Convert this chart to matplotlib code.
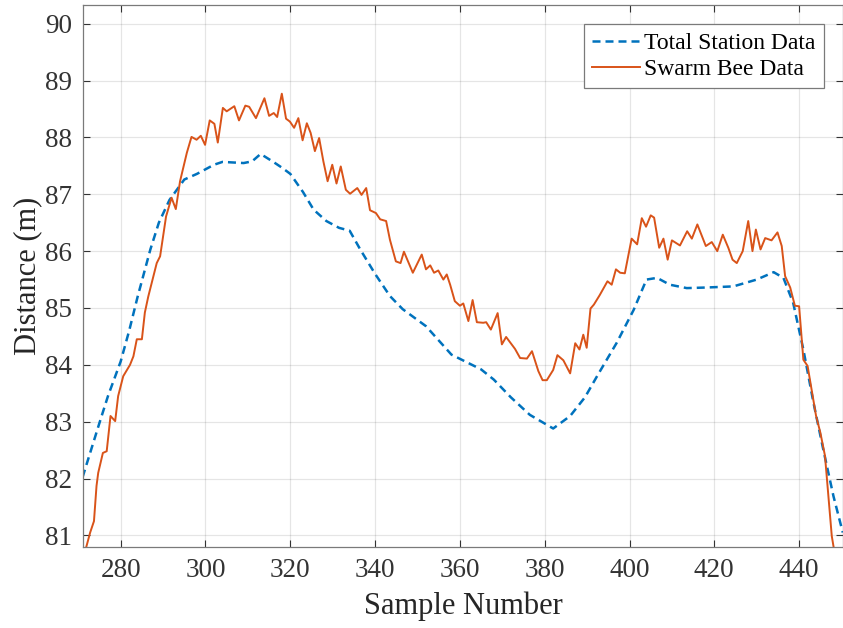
import matplotlib
matplotlib.use('Agg')
import matplotlib.pyplot as plt

# Total Station readings (smooth reference curve)
ts_x = [271, 273, 275, 277, 280, 282, 284, 287, 289, 291.5, 295, 298, 302, 304, 309, 311, 313, 316,
        318, 320, 323, 325.5, 328.5, 331.5, 334, 336.5, 340, 343.5, 346.5, 352, 358, 365, 368, 372,
        376.5, 382, 386, 389.5, 392.5, 397, 401, 404, 406.5, 409.5, 413.5, 418, 424.5, 430, 434,
        436.3, 438.6, 441, 443.4, 445.7, 448.1, 450.3]
ts_y = [82.02, 82.5, 82.98, 83.45, 84.06, 84.6, 85.2, 86.03, 86.5, 86.9, 87.26, 87.36, 87.52, 87.57,
        87.55, 87.58, 87.71, 87.57, 87.47, 87.36, 87.04, 86.73, 86.53, 86.41, 86.36, 86.03, 85.6,
        85.21, 84.98, 84.68, 84.18, 83.92, 83.74, 83.43, 83.12, 82.88, 83.1, 83.43, 83.82, 84.39,
        84.97, 85.5, 85.53, 85.41, 85.35, 85.36, 85.38, 85.5, 85.63, 85.53, 85.09, 84.27, 83.33,
        82.51, 81.69, 81.05]

# Swarm Bee readings (noisy)
sb_x = [271.9, 272.8, 273.7, 274.3, 274.7, 275.8, 276.7, 277.6, 278.7, 279.4, 280.6, 282.2, 283.0,
        283.8, 285.0, 285.7, 286.5, 288.5, 289.3, 290.7, 292.0, 293.0, 294.0, 295.6, 296.7, 297.9,
        298.9, 299.9, 301.0, 302.1, 302.9, 304.1, 305.0, 306.8, 307.9, 309.4, 310.3, 311.9, 313.9,
        315.0, 316.1, 316.9, 318.0, 319.0, 319.9, 320.9, 321.9, 322.9, 323.9, 324.8, 325.8, 326.8,
        327.8, 328.8, 329.9, 330.9, 331.9, 333.1, 334.1, 335.8, 336.8, 337.9, 338.8, 340.2, 341.2,
        342.6, 343.5, 344.9, 346.0, 346.8, 348.9, 351.0, 352.0, 353.0, 353.9, 354.9, 356.1, 356.9,
        357.7, 358.8, 360.0, 360.8, 362.0, 363.0, 364.0, 365.5, 366.2, 367.3, 368.9, 369.9, 370.9,
        373.0, 374.2, 375.8, 377.0, 378.5, 379.5, 380.5, 382.0, 383.0, 384.4, 386.0, 387.2, 388.2,
        389.1, 389.9, 390.8, 391.6, 393.0, 394.8, 395.8, 396.8, 397.8, 398.9, 400.5, 401.8, 402.9,
        403.9, 405.0, 405.8, 407.0, 408.0, 409.0, 410.0, 411.9, 413.6, 414.7, 416.0, 418.0, 419.4,
        420.7, 422.0, 423.3, 424.3, 425.3, 426.7, 428.0, 429.0, 429.8, 430.9, 432.0, 433.5, 434.9,
        435.9, 436.7, 437.9, 439.0, 440.0, 441.0, 442.0, 444.0, 445.0, 446.1, 446.9, 447.7, 448.1]
sb_y = [80.8, 81.05, 81.25, 81.87, 82.1, 82.45, 82.48, 83.1, 83.01, 83.45, 83.8, 84.0, 84.15,
        84.45, 84.45, 84.92, 85.2, 85.79, 85.91, 86.61, 86.94, 86.74, 87.23, 87.73, 88.01, 87.96,
        88.03, 87.87, 88.3, 88.24, 87.91, 88.52, 88.46, 88.55, 88.3, 88.56, 88.54, 88.34, 88.69,
        88.38, 88.43, 88.36, 88.77, 88.33, 88.28, 88.17, 88.34, 87.95, 88.25, 88.08, 87.76, 87.99,
        87.58, 87.23, 87.52, 87.19, 87.49, 87.08, 87.01, 87.11, 86.99, 87.11, 86.72, 86.67, 86.56,
        86.53, 86.2, 85.82, 85.79, 85.99, 85.62, 85.94, 85.68, 85.75, 85.62, 85.66, 85.5, 85.59,
        85.41, 85.12, 85.04, 85.08, 84.77, 85.14, 84.75, 84.74, 84.75, 84.62, 84.91, 84.36, 84.49,
        84.28, 84.12, 84.11, 84.24, 83.89, 83.73, 83.73, 83.91, 84.17, 84.08, 83.85, 84.38, 84.27,
        84.53, 84.3, 84.99, 85.06, 85.23, 85.47, 85.41, 85.68, 85.62, 85.61, 86.22, 86.12, 86.58,
        86.43, 86.63, 86.59, 86.06, 86.22, 85.85, 86.19, 86.1, 86.35, 86.22, 86.47, 86.09, 86.16,
        86.0, 86.29, 86.06, 85.85, 85.79, 86.0, 86.53, 86.0, 86.38, 86.03, 86.23, 86.19, 86.33,
        86.09, 85.56, 85.36, 85.04, 85.03, 84.09, 83.98, 83.1, 82.81, 82.4, 81.69, 80.99, 80.81]

x_ticks = [280, 300, 320, 340, 360, 380, 400, 420, 440]
y_ticks = [81, 82, 83, 84, 85, 86, 87, 88, 89, 90]

plt.rcParams['font.family'] = ['Liberation Serif', 'DejaVu Serif']

fig = plt.figure(figsize=(8.43, 6.28), dpi=100)
ax = fig.add_axes([0.0988, 0.1285, 0.9012, 0.8635])

ax.plot(ts_x, ts_y, color='#0072BD', lw=1.8, ls='--', dashes=(3.2, 2.0), label='Total Station Data')
ax.plot(sb_x, sb_y, color='#D95319', lw=1.4, label='Swarm Bee Data')

ax.set_xlim(271.18, 450.35)
ax.set_ylim(80.79, 90.33)
ax.set_xticks(x_ticks)
ax.set_yticks(y_ticks)
ax.grid(True, color='#000000', alpha=0.1, lw=0.9)
ax.set_axisbelow(True)
ax.tick_params(direction='in', top=True, right=True, length=5, width=0.8,
               labelsize=19.5, colors='#333333', pad=8)
for s in ax.spines.values():
    s.set_color('#7a7a7a')
    s.set_linewidth(0.9)

ax.set_xlabel('Sample Number', fontsize=22, color='#262626', labelpad=6)
ax.set_ylabel('Distance (m)', fontsize=22, color='#262626', labelpad=2)

leg = ax.legend(loc='upper right', bbox_to_anchor=(824 / 843, (628 - 24) / 628),
                bbox_transform=fig.transFigure, borderaxespad=0, fontsize=17,
                handlelength=2.0, handletextpad=0.2, labelspacing=0.2,
                fancybox=False, framealpha=1, borderpad=0.35)
leg.get_frame().set_edgecolor('#7a7a7a')
leg.get_frame().set_linewidth(0.9)

fig.savefig('out.png', dpi=100)
